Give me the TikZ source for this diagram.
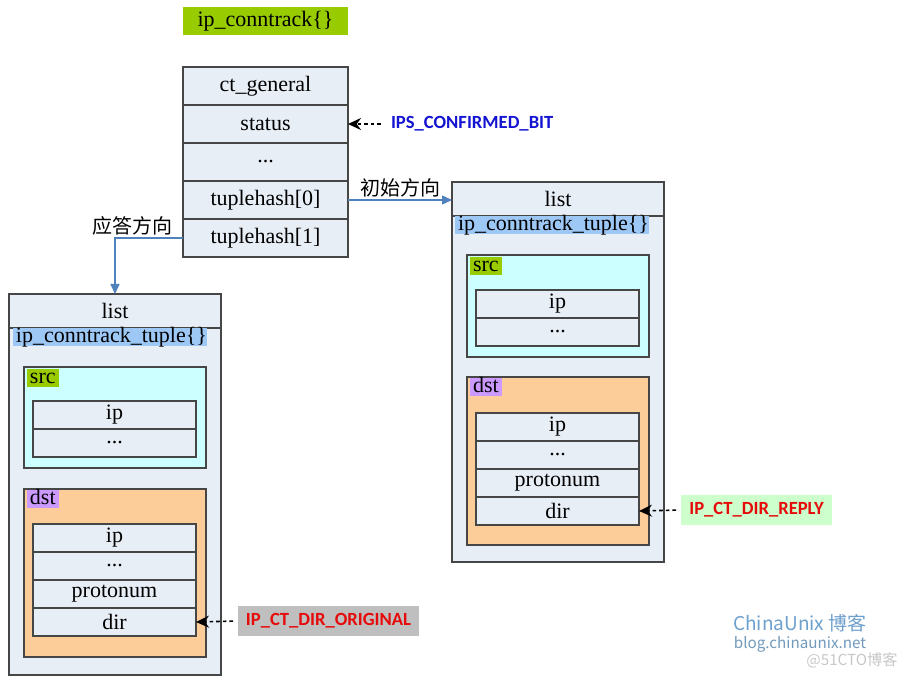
\documentclass[tikz,border=0pt]{standalone}
\usepackage{fontspec}
\setmainfont{Liberation Serif}
\newfontfamily\labelfont{Carlito}
\newfontfamily\cjkfont{Noto Sans CJK SC}
\usetikzlibrary{arrows.meta, positioning}

\definecolor{linec}{RGB}{70,70,70}
\definecolor{structc}{RGB}{232,238,246}
\definecolor{titlec}{RGB}{153,204,0}
\definecolor{tuplec}{RGB}{157,200,245}
\definecolor{srcc}{RGB}{204,255,255}
\definecolor{dstc}{RGB}{252,204,153}
\definecolor{dsttagc}{RGB}{204,153,255}
\definecolor{routec}{RGB}{79,129,189}
\definecolor{bluetext}{RGB}{20,20,210}
\definecolor{redtext}{RGB}{230,10,10}
\definecolor{graybg}{RGB}{191,191,191}
\definecolor{greenbg}{RGB}{204,255,204}
\definecolor{wmblue}{RGB}{110,160,205}
\definecolor{wmgray}{RGB}{200,200,200}

\begin{document}
\begin{tikzpicture}[
    x=0.5pt, y=-0.5pt,
    font=\fontsize{11}{13}\selectfont,
    field/.style={rectangle, draw=linec, fill=structc, line width=0.6pt, outer sep=0pt, inner sep=0pt, minimum width=82.5pt, minimum height=19pt},
    cell/.style={field, minimum width=81.5pt, minimum height=14pt},
    holder/.style={rectangle, draw=linec, line width=0.6pt, outer sep=0pt, inner sep=0pt, anchor=north west},
    badge/.style={rectangle, inner xsep=1.5pt, inner ysep=0pt, outer sep=0pt, text height=7.4pt, text depth=1.6pt, anchor=north west},
    note/.style={rectangle, inner xsep=2.5pt, inner ysep=0pt, outer sep=0pt, minimum height=15pt, anchor=west, font=\labelfont\bfseries\fontsize{9.3}{11}\selectfont},
    hint/.style={-{Stealth[length=6.5pt, width=6pt]}, line width=0.8pt, dash pattern=on 1.8pt off 1.5pt, shorten <=2.5pt},
    route/.style={-{Triangle[length=5pt, width=4.5pt]}, draw=routec, line width=0.7pt},
    cjk/.style={font=\cjkfont\fontsize{10}{12}\selectfont, inner sep=1pt}
]
\useasboundingbox[fill=white] (0,0) rectangle (911,679);

% --- ip_conntrack{} ---
\node[rectangle, fill=titlec, inner sep=0pt, minimum width=82.5pt, minimum height=14pt] (conntrack) at (265.5,21) {ip\_conntrack\{\}};

\node[field, anchor=north west] (ct_general) at (183,67) {ct\_general};
\node[field, below=0pt of ct_general] (status) {status};
\node[field, below=0pt of status] (dots) {...};
\node[field, below=0pt of dots] (hash0) {tuplehash[0]};
\node[field, below=0pt of hash0] (hash1) {tuplehash[1]};

% status bit
\node[note, text=bluetext] (confirmed) at (386,124) {IPS\_CONFIRMED\_BIT};
\draw[hint] (confirmed.west) -- (status.east);

% --- Right tuple (original direction) ---
\node[holder, fill=structc, minimum width=106pt, minimum height=190pt] (rbox) at (452,182) {};
\node[field, minimum width=106pt, minimum height=17pt, anchor=north west] (rlist) at (452,182) {list};
\node[badge, fill=tuplec, text width=94pt, align=left] (rtuple) at (455,216) {ip\_conntrack\_tuple\{\}};

\node[holder, fill=srcc, minimum width=91pt, minimum height=51pt] (rsrc) at (467,255) {};
\node[badge, fill=titlec] (rsrc_tag) at (470,257) {src};
\node[cell, anchor=north west] (rsrc_ip) at (476,290) {ip};
\node[cell, below=0pt of rsrc_ip] (rsrc_etc) {...};

\node[holder, fill=dstc, minimum width=91pt, minimum height=84pt] (rdst) at (467,377) {};
\node[badge, fill=dsttagc] (rdst_tag) at (470,378) {dst};
\node[cell, anchor=north west] (rdst_ip) at (476,413) {ip};
\node[cell, below=0pt of rdst_ip] (rdst_etc) {...};
\node[cell, below=0pt of rdst_etc] (rdst_proto) {protonum};
\node[cell, below=0pt of rdst_proto] (rdst_dir) {dir};

\node[note, fill=greenbg, text=redtext, minimum width=75.5pt, align=left] (reply) at (681,510) {IP\_CT\_DIR\_REPLY};
\draw[hint] (reply.west) -- (rdst_dir.east);

% --- Left tuple (reply direction) ---
\node[holder, fill=structc, minimum width=106pt, minimum height=190.5pt] (lbox) at (9,294) {};
\node[field, minimum width=106pt, minimum height=17pt, anchor=north west] (llist) at (9,294) {list};
\node[badge, fill=tuplec, text width=94pt, align=left] (ltuple) at (13,328) {ip\_conntrack\_tuple\{\}};

\node[holder, fill=srcc, minimum width=91pt, minimum height=50.5pt] (lsrc) at (24,367) {};
\node[badge, fill=titlec] (lsrc_tag) at (27,369) {src};
\node[cell, anchor=north west] (lsrc_ip) at (33,401) {ip};
\node[cell, below=0pt of lsrc_ip] (lsrc_etc) {...};

\node[holder, fill=dstc, minimum width=91pt, minimum height=84pt] (ldst) at (24,489) {};
\node[badge, fill=dsttagc] (ldst_tag) at (27,490) {dst};
\node[cell, anchor=north west] (ldst_ip) at (33,524) {ip};
\node[cell, below=0pt of ldst_ip] (ldst_etc) {...};
\node[cell, below=0pt of ldst_etc] (ldst_proto) {protonum};
\node[cell, below=0pt of ldst_proto] (ldst_dir) {dir};

\node[note, fill=graybg, text=redtext, minimum width=90.5pt, align=left] (original) at (238,621) {IP\_CT\_DIR\_ORIGINAL};
\draw[hint] (original.west) -- (ldst_dir.east);

% --- Directions ---
\draw[route] (hash0.east) -- node[cjk, above] (init_lbl) {初始方向} (hash0.east -| rbox.west);
\draw[route] (hash1.west) -| node[cjk, pos=0.37, above] (reply_lbl) {应答方向} (lbox.north);

% --- Watermark ---
\node[font=\cjkfont\fontsize{9.5}{11}\selectfont, text=wmblue, inner sep=0pt] (wm_brand) at (800,623) {ChinaUnix 博客};
\node[font=\cjkfont\fontsize{7.6}{9}\selectfont, text=wmblue!80!gray, inner sep=0pt] (wm_site) at (800,644) {blog.chinaunix.net};
\node[font=\cjkfont\fontsize{7.6}{9}\selectfont, text=wmgray, inner sep=0pt] (wm_cto) at (852,660) {@51CTO博客};

\end{tikzpicture}
\end{document}
